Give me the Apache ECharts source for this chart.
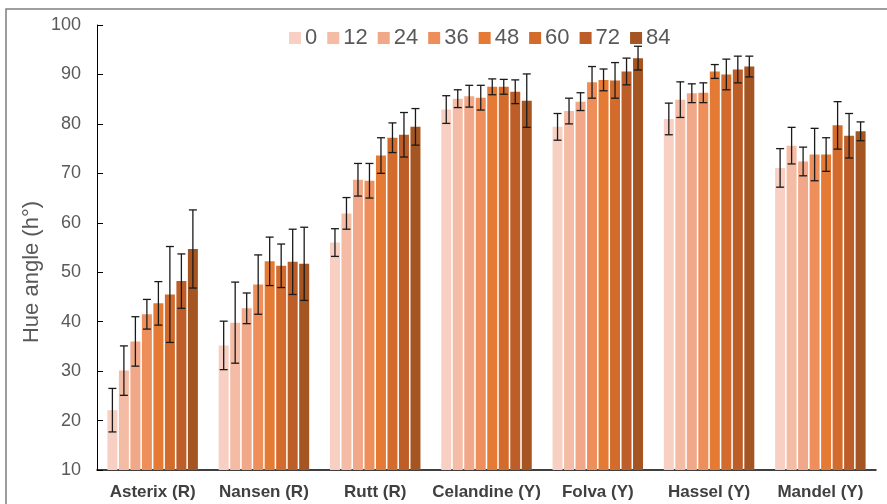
<!DOCTYPE html>
<html>
<head>
<meta charset="utf-8">
<script src="https://cdn.jsdelivr.net/npm/echarts@6/dist/echarts.min.js"></script>
<style>html,body{margin:0;padding:0;background:#fff}#c{width:887px;height:504px}</style>
</head>
<body>
<div id="c"></div>
<script>
const categories = ['Asterix (R)', 'Nansen (R)', 'Rutt (R)', 'Celandine (Y)', 'Folva (Y)', 'Hassel (Y)', 'Mandel (Y)'];
const seriesNames = ['0', '12', '24', '36', '48', '60', '72', '84'];
const colors = ['#F8D0C3', '#F4BBA5', '#F1A888', '#EE8F5B', '#E47A33', '#D26B2C', '#BD5E29', '#A55522'];
const yTicks = [10, 20, 30, 40, 50, 60, 70, 80, 90, 100];

// values per time point (series), one per cultivar
const v0  = [22.1, 35.2, 56.0, 82.9, 79.4, 81.0, 71.1];
const v12 = [30.1, 39.8, 61.9, 85.1, 82.6, 84.9, 75.6];
const v24 = [36.0, 42.7, 68.7, 85.6, 84.5, 86.2, 72.4];
const v36 = [41.5, 47.5, 68.5, 85.3, 88.4, 86.3, 73.8];
const v48 = [43.7, 52.2, 73.6, 87.5, 88.9, 90.6, 73.8];
const v60 = [45.5, 51.3, 77.2, 87.5, 88.8, 90.0, 79.7];
const v72 = [48.2, 52.1, 77.8, 86.5, 90.6, 91.0, 77.6];
const v84 = [54.7, 51.7, 79.4, 84.7, 93.3, 91.6, 78.5];

// symmetric error (standard deviation)
const e0  = [4.4, 4.9, 2.8, 2.8, 2.7, 3.2, 3.9];
const e12 = [5.0, 8.2, 3.2, 1.8, 2.6, 3.6, 3.7];
const e24 = [5.0, 3.1, 3.3, 2.2, 1.8, 1.9, 2.9];
const e36 = [3.0, 6.0, 3.5, 2.5, 3.2, 2.0, 5.3];
const e48 = [4.4, 4.9, 3.6, 1.6, 2.2, 1.4, 3.4];
const e60 = [9.7, 4.4, 3.0, 1.5, 3.6, 3.1, 4.8];
const e72 = [5.5, 6.6, 4.5, 2.4, 2.7, 2.7, 4.5];
const e84 = [7.9, 7.4, 3.7, 5.4, 2.4, 2.1, 1.9];

const values = [v0, v12, v24, v36, v48, v60, v72, v84];
const errors = [e0, e12, e24, e36, e48, e60, e72, e84];

const BAR_W = 10;
const GAP = 0.15;
const PITCH = BAR_W * (1 + GAP);

const chart = echarts.init(document.getElementById('c'));

const barSeries = seriesNames.map((n, i) => ({
  name: n,
  type: 'bar',
  barWidth: BAR_W,
  barGap: (GAP * 100) + '%',
  itemStyle: { color: colors[i] },
  data: values[i]
}));

const errData = [];
values.forEach((arr, si) => {
  arr.forEach((v, ci) => {
    errData.push([ci, si, v - errors[si][ci], v + errors[si][ci]]);
  });
});

const errSeries = {
  type: 'custom',
  name: 'err',
  z: 10,
  silent: true,
  encode: { x: 0, y: [2, 3] },
  data: errData,
  renderItem: function (params, api) {
    const ci = api.value(0);
    const si = api.value(1);
    const lo = api.coord([ci, api.value(2)]);
    const hi = api.coord([ci, api.value(3)]);
    const x = lo[0] + (si - (seriesNames.length - 1) / 2) * PITCH;
    const cap = 4;
    const style = { stroke: '#1a1a1a', lineWidth: 1.3 };
    return {
      type: 'group',
      children: [
        { type: 'line', shape: { x1: x, y1: lo[1], x2: x, y2: hi[1] }, style: style },
        { type: 'line', shape: { x1: x - cap, y1: lo[1], x2: x + cap, y2: lo[1] }, style: style },
        { type: 'line', shape: { x1: x - cap, y1: hi[1], x2: x + cap, y2: hi[1] }, style: style }
      ]
    };
  }
};

chart.setOption({
  animation: false,
  textStyle: { fontFamily: "'Liberation Sans', Arial, sans-serif" },
  grid: { left: 97, right: 11, top: 25, bottom: 34, containLabel: false },
  legend: {
    data: seriesNames,
    left: 284,
    top: 22,
    itemWidth: 12,
    itemHeight: 12,
    itemGap: 10,
    icon: 'rect',
    textStyle: { fontSize: 22, color: '#595959', padding: [0, 0, 0, -1] }
  },
  xAxis: {
    type: 'category',
    data: categories,
    axisLine: { lineStyle: { color: '#000', width: 1.5 } },
    axisTick: { show: false },
    axisLabel: { fontSize: 17, fontWeight: 'bold', color: '#404040', margin: 14, interval: 0 }
  },
  yAxis: {
    type: 'value',
    min: 10,
    max: 100,
    interval: 10,
    axisLine: { show: true, lineStyle: { color: '#000', width: 1 } },
    axisTick: { show: true, inside: true, length: 6, lineStyle: { color: '#000' } },
    splitLine: { show: false },
    axisLabel: { fontSize: 18, color: '#595959', margin: 16 }
  },
  graphic: [
    {
      type: 'rect',
      shape: { x: 6, y: 9, width: 900, height: 520 },
      style: { fill: 'none', stroke: '#7f7f7f', lineWidth: 1.5 },
      z: -10
    },
    {
      type: 'text',
      x: 32,
      y: 272,
      rotation: Math.PI / 2,
      style: {
        text: 'Hue angle (h°)',
        fontSize: 22,
        fill: '#595959',
        fontFamily: "'Liberation Sans', Arial, sans-serif",
        align: 'center',
        verticalAlign: 'middle'
      }
    }
  ],
  series: barSeries.concat([errSeries])
});
</script>
</body>
</html>
